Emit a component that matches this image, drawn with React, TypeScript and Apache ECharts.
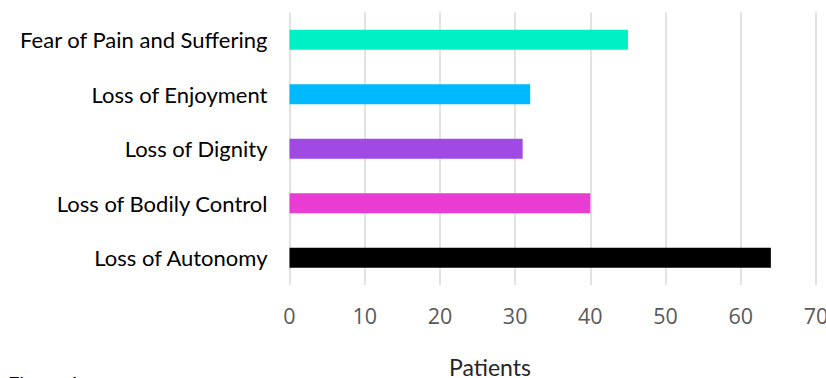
import React, { useEffect, useRef } from "react";
import * as echarts from "echarts";

const categories = [
  "Loss of Autonomy",
  "Loss of Bodily Control",
  "Loss of Dignity",
  "Loss of Enjoyment",
  "Fear of Pain and Suffering",
];
const values = [64, 40, 31, 32, 45];
const barColors = ["#000000", "#E83CD2", "#A04AE3", "#00B9FF", "#00F0C6"];
const xTicks = { min: 0, max: 70, interval: 10 };
const axisTitle = "Patients";
const figureLabel = "Figure 1";

export default function App() {
  const ref = useRef<HTMLDivElement>(null);
  useEffect(() => {
    document.body.style.margin = "0";
    if (!ref.current) return;
    const chart = echarts.init(ref.current, null, { renderer: "svg" });
    chart.setOption({
      animation: false,
      backgroundColor: "#ffffff",
      grid: {
        left: 289.5,
        right: 10,
        top: 12.5,
        bottom: 93,
        containLabel: false,
        outerBoundsMode: "none",
      },
      xAxis: {
        type: "value",
        min: xTicks.min,
        max: xTicks.max,
        interval: xTicks.interval,
        axisLine: { show: false },
        axisTick: { show: false },
        splitLine: { show: true, lineStyle: { color: "#d9d9d9", width: 1.5 } },
        axisLabel: {
          color: "#595959",
          fontFamily: "Open Sans",
          fontSize: 21.5,
          margin: 19,
        },
      },
      yAxis: {
        type: "category",
        data: categories,
        axisLine: { show: false },
        axisTick: { show: false },
        axisLabel: {
          color: "#000000",
          fontFamily: "Lato",
          fontSize: 22,
          margin: 22,
        },
      },
      series: [
        {
          type: "bar",
          barWidth: 20,
          data: values.map((v, i) => ({ value: v, itemStyle: { color: barColors[i] } })),
        },
      ],
      graphic: [
        {
          type: "text",
          x: 490,
          y: 367,
          style: {
            text: axisTitle,
            fontFamily: "Lato",
            fontSize: 23,
            fill: "#262626",
            textAlign: "center",
            textVerticalAlign: "middle",
          },
        },
        {
          type: "text",
          x: 8,
          y: 373,
          style: {
            text: figureLabel,
            fontFamily: "Lato",
            fontSize: 20,
            fill: "#000000",
            textAlign: "left",
            textVerticalAlign: "top",
          },
        },
      ],
    });
    return () => chart.dispose();
  }, []);
  return <div ref={ref} style={{ width: 826, height: 378 }} />;
}
